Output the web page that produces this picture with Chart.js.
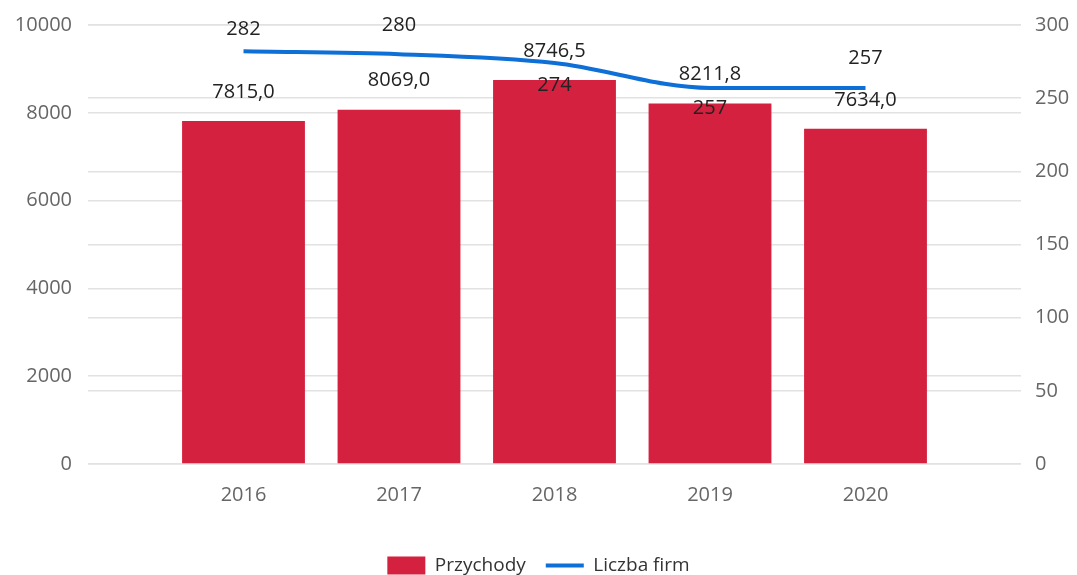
<!DOCTYPE html>
<html>
<head>
<meta charset="utf-8">
<script src="https://cdn.jsdelivr.net/npm/chart.js@4/dist/chart.umd.min.js"></script>
<style>
  html, body { margin: 0; padding: 0; background: #fff; }
  #wrap { width: 1077px; height: 575px; }
</style>
</head>
<body>
<div id="wrap"><canvas id="chartMain"></canvas></div>
<script>
// Data (padded with empty slots on both ends, like the original layout)
const years = ["", "2016", "2017", "2018", "2019", "2020", ""];
const revenue = [null, 7815.0, 8069.0, 8746.5, 8211.8, 7634.0, null];
const firms = [null, 282, 280, 274, 257, 257, null];
const leftTicks = [0, 2000, 4000, 6000, 8000, 10000];
const rightTicks = [0, 50, 100, 150, 200, 250, 300];

// vertical offset (px) of each firm label from its line point
const firmLabelOffset = [0, -22, -29, 22, 20, -30, 0];

const FONT = "'Open Sans', 'Noto Sans', sans-serif";

const valueLabels = {
  id: "valueLabels",
  afterLayout(chart) {
    // push the legend a bit lower, closer to the bottom edge
    const lg = chart.legend;
    if (lg) { lg.top += 10; lg.bottom += 10; }
  },
  afterDatasetsDraw(chart) {
    const ctx = chart.ctx;
    ctx.save();
    ctx.font = "20px " + FONT;
    ctx.fillStyle = "#222";
    ctx.textAlign = "center";
    ctx.textBaseline = "middle";

    const bars = chart.getDatasetMeta(0).data;
    bars.forEach((el, i) => {
      if (revenue[i] == null) return;
      const txt = revenue[i].toFixed(1).replace(".", ",");
      ctx.fillText(txt, el.x, el.y - 29);
    });

    const pts = chart.getDatasetMeta(1).data;
    pts.forEach((el, i) => {
      if (firms[i] == null) return;
      ctx.fillText(String(firms[i]), el.x, el.y + firmLabelOffset[i]);
    });
    ctx.restore();
  }
};

function fixPadding(scale) {
  scale.paddingTop = 25;
  scale.paddingBottom = 0;
}

new Chart(document.getElementById("chartMain"), {
  type: "bar",
  data: {
    labels: years,
    datasets: [
      {
        type: "bar",
        label: "Przychody",
        data: revenue,
        backgroundColor: "#D4213F",
        yAxisID: "y",
        categoryPercentage: 1,
        barPercentage: 0.79,
        order: 2,
      },
      {
        type: "line",
        label: "Liczba firm",
        data: firms,
        borderColor: "#0E6FD6",
        backgroundColor: "#0E6FD6",
        borderWidth: 4,
        pointRadius: 0,
        cubicInterpolationMode: "monotone",
        yAxisID: "y1",
        order: 1,
      },
    ],
  },
  options: {
    responsive: true,
    maintainAspectRatio: false,
    animation: false,
    layout: { padding: 0 },
    plugins: {
      tooltip: { enabled: false },
      legend: {
        position: "bottom",
        labels: {
          usePointStyle: true,
          pointStyleWidth: 38,
          boxHeight: 18,
          padding: 20,
          color: "#333",
          font: { family: FONT, size: 19 },
          generateLabels(chart) {
            const items = Chart.defaults.plugins.legend.labels.generateLabels(chart);
            items.sort((a, b) => a.datasetIndex - b.datasetIndex);
            items.forEach(it => {
              if (it.datasetIndex === 0) {
                it.pointStyle = "rect";
                it.lineWidth = 0;
              } else {
                it.pointStyle = "line";
                it.lineWidth = 4;
              }
            });
            return items;
          },
        },
      },
    },
    scales: {
      x: {
        offset: false,
        grid: { display: false },
        border: { display: false },
        ticks: { color: "#666", font: { family: FONT, size: 20 }, padding: 11, maxRotation: 0, autoSkip: false },
        afterFit(scale) { scale.height = 62; },
      },
      y: {
        position: "left",
        min: 0,
        max: 10000,
        afterBuildTicks(scale) { scale.ticks = leftTicks.map(v => ({ value: v })); },
        grid: { color: "#e2e2e2", lineWidth: 1.5, drawTicks: false },
        border: { display: false },
        ticks: { color: "#666", font: { family: FONT, size: 20 }, padding: 16, callback: v => String(v) },
        afterFit(scale) { scale.width = 88; fixPadding(scale); },
      },
      y1: {
        position: "right",
        min: 0,
        max: 300,
        afterBuildTicks(scale) { scale.ticks = rightTicks.map(v => ({ value: v })); },
        grid: { color: "#e2e2e2", lineWidth: 1.5, drawTicks: false },
        border: { display: false },
        ticks: { color: "#666", font: { family: FONT, size: 20 }, padding: 14, callback: v => String(v) },
        afterFit(scale) { scale.width = 56; fixPadding(scale); },
      },
    },
  },
  plugins: [valueLabels],
});
</script>
</body>
</html>
